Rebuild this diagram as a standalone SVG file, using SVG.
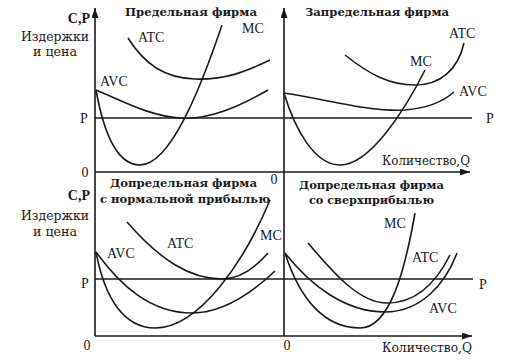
<svg xmlns="http://www.w3.org/2000/svg" width="517" height="362" viewBox="0 0 517 362">
<style>
.ax{stroke:#1a1a1a;stroke-width:1.6;fill:none}
.cv{stroke:#1a1a1a;stroke-width:1.6;fill:none}
.t{font-family:"Liberation Serif","DejaVu Serif","Times New Roman",serif;font-size:14px;fill:#1a1a1a}
.c{font-family:"DejaVu Serif","Liberation Serif",serif}
.s{font-size:12px}
.b{font-family:"DejaVu Serif","Liberation Serif",serif;font-size:11.5px;font-weight:bold;fill:#1a1a1a}
.m{text-anchor:middle}
.e{text-anchor:end}
</style>
<defs>
<marker id="arr" markerWidth="10" markerHeight="7" refX="10" refY="3.5" orient="auto" markerUnits="userSpaceOnUse">
<path d="M0,0 L10,3.5 L0,7 z" fill="#1a1a1a"/>
</marker>
</defs>
<rect width="517" height="362" fill="#ffffff"/>
<g id="axes">
<path class="ax" d="M95,336 L95,8" marker-end="url(#arr)"/>
<path class="ax" d="M284,336 L284,8" marker-end="url(#arr)"/>
<path class="ax" d="M95,172 L470,172" marker-end="url(#arr)"/>
<path class="ax" d="M95,336 L472,336" marker-end="url(#arr)"/>
<path class="ax" d="M95,118 L472,118"/>
<path class="ax" d="M95,279 L473,279"/>
</g>
<g id="axis-labels">
<text class="t e" x="90" y="23" font-weight="bold">C,P</text>
<text class="t c s m" x="55" y="41" textLength="68" lengthAdjust="spacingAndGlyphs">Издержки</text>
<text class="t c s m" x="55" y="56" textLength="44" lengthAdjust="spacingAndGlyphs">и цена</text>
<text class="t e" x="90" y="200" font-weight="bold">C,P</text>
<text class="t c s m" x="55" y="220" textLength="68" lengthAdjust="spacingAndGlyphs">Издержки</text>
<text class="t c s m" x="55" y="236" textLength="44" lengthAdjust="spacingAndGlyphs">и цена</text>
<text class="t m" x="85" y="177">0</text>
<text class="t m" x="274" y="184">0</text>
<text class="t m" x="87" y="350">0</text>
<text class="t m" x="287" y="350">0</text>
<text class="t m" x="84" y="123">P</text>
<text class="t m" x="490" y="123">P</text>
<text class="t m" x="85" y="288">P</text>
<text class="t m" x="483" y="289">P</text>
<text class="t c s" x="382" y="165" textLength="88" lengthAdjust="spacingAndGlyphs">Количество,Q</text>
<text class="t c s" x="382" y="352" textLength="90" lengthAdjust="spacingAndGlyphs">Количество,Q</text>
</g>
<g id="panel-marginal">
<text class="b" x="125" y="16" textLength="132" lengthAdjust="spacingAndGlyphs">Предельная фирма</text>
<path class="cv" d="M96,90 C125,102 150,116 180,118 C210,120 240,106 268,90"/>
<path class="cv" d="M128,38 C145,65 165,78 195,79 C225,80 245,72 270,60"/>
<path class="cv" d="M96,90 C105,140 120,165 140,165 C170,165 200,90 222,25"/>
<text class="t" x="138" y="42">ATC</text>
<text class="t" x="242" y="33">MC</text>
<text class="t" x="100" y="86">AVC</text>
</g>
<g id="panel-submarginal">
<text class="b" x="305" y="16" textLength="144" lengthAdjust="spacingAndGlyphs">Запредельная фирма</text>
<path class="cv" d="M284,93 C330,100 370,112 405,110 C430,108 445,100 454,92"/>
<path class="cv" d="M345,55 C370,75 390,85 415,85 C440,85 458,70 464,43"/>
<path class="cv" d="M284,93 C295,130 315,165 340,165 C370,165 405,110 425,70"/>
<text class="t" x="449" y="38">ATC</text>
<text class="t" x="410" y="66">MC</text>
<text class="t" x="459" y="96">AVC</text>
</g>
<g id="panel-normal-profit">
<text class="b" x="110" y="187" textLength="147" lengthAdjust="spacingAndGlyphs">Допредельная фирма</text>
<text class="b" x="100" y="203" textLength="170" lengthAdjust="spacingAndGlyphs">с нормальной прибылью</text>
<path class="cv" d="M127,222 C160,260 190,279 222,279 C240,279 255,268 268,253"/>
<path class="cv" d="M96,252 C120,285 150,313 192,313 C225,313 255,290 275,271"/>
<path class="cv" d="M96,252 C105,300 125,328 155,328 C200,328 245,260 270,200"/>
<text class="t" x="107" y="258">AVC</text>
<text class="t" x="167" y="248">ATC</text>
<text class="t" x="260" y="240">MC</text>
</g>
<g id="panel-excess-profit">
<text class="b" x="299" y="189" textLength="145" lengthAdjust="spacingAndGlyphs">Допредельная фирма</text>
<text class="b" x="309" y="204" textLength="125" lengthAdjust="spacingAndGlyphs">со сверхприбылью</text>
<path class="cv" d="M308,243 C335,275 360,303 387,303 C415,303 435,285 450,255"/>
<path class="cv" d="M285,253 C310,285 345,312 385,312 C420,312 445,285 457,253"/>
<path class="cv" d="M285,253 C300,300 325,328 360,328 C390,328 405,270 415,213"/>
<text class="t" x="384" y="228">MC</text>
<text class="t" x="412" y="262">ATC</text>
<text class="t" x="429" y="313">AVC</text>
</g>
</svg>
